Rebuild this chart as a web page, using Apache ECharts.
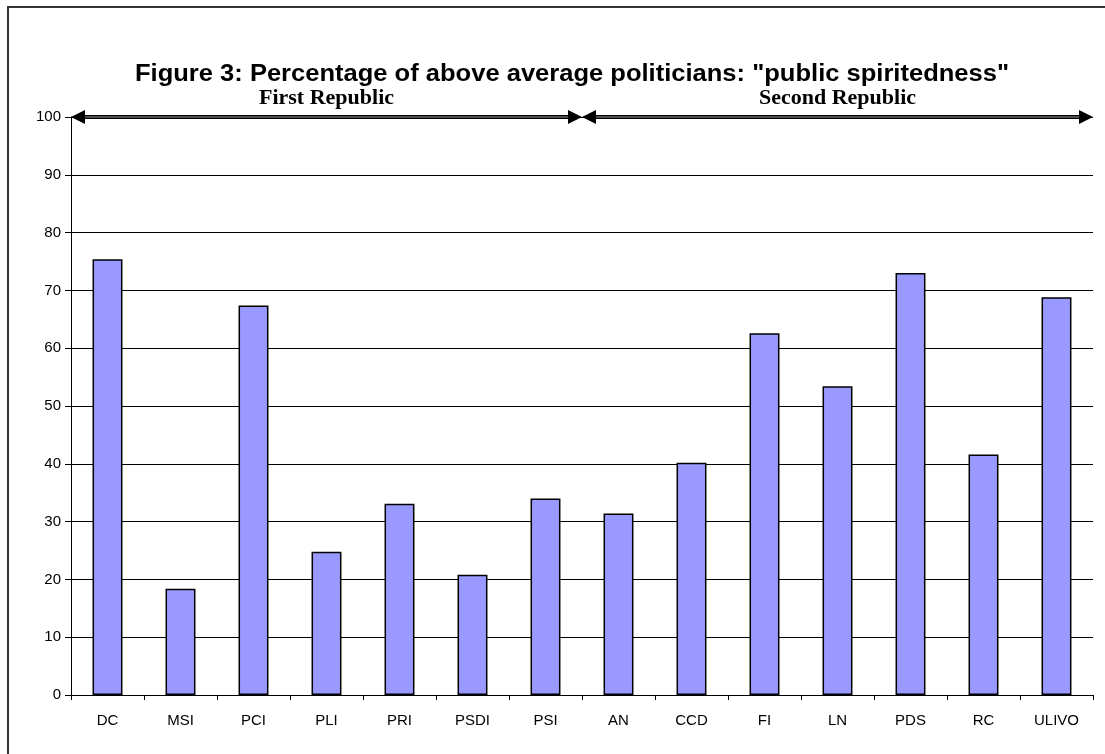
<!DOCTYPE html>
<html>
<head>
<meta charset="utf-8">
<script src="https://cdn.jsdelivr.net/npm/echarts@6/dist/echarts.min.js"></script>
<style>
html,body{margin:0;padding:0;background:#fff;}
#chart{width:1105px;height:754px;}
</style>
</head>
<body>
<div id="chart"></div>
<script>
var categories = ['DC','MSI','PCI','PLI','PRI','PSDI','PSI','AN','CCD','FI','LN','PDS','RC','ULIVO'];
var values = [75.4, 18.4, 67.4, 24.8, 33.1, 20.8, 34.0, 31.4, 40.2, 62.6, 53.4, 73.0, 41.6, 68.8];
var yTicks = [0,10,20,30,40,50,60,70,80,90,100];
var periods = [
  {name:'First Republic', from:0, to:7},
  {name:'Second Republic', from:7, to:14}
];
var titleText = 'Figure 3: Percentage of above average politicians: "public spiritedness"';

var chart = echarts.init(document.getElementById('chart'), null, {renderer:'canvas'});
var option = {
  backgroundColor:'#ffffff',
  animation:false,
  grid:{left:71, right:12, top:117, bottom:59},
  xAxis:[{
    type:'category', data:categories, boundaryGap:true,
    axisLine:{lineStyle:{color:'#000', width:1}},
    axisTick:{show:true, interval:0, length:5, lineStyle:{color:'#000'}},
    axisLabel:{interval:0, margin:18, fontFamily:'Liberation Sans, Arial', fontSize:15, color:'#000'}
  },{
    type:'value', min:0, max:categories.length, show:false
  }],
  yAxis:{
    type:'value', min:yTicks[0], max:yTicks[yTicks.length-1], interval:10,
    axisLine:{show:true, lineStyle:{color:'#000'}},
    axisTick:{show:true, length:6, lineStyle:{color:'#000'}},
    axisLabel:{margin:10, fontFamily:'Liberation Sans, Arial', fontSize:15, color:'#000'},
    splitLine:{show:true, lineStyle:{color:'#000', width:1}}
  },
  series:[{
    type:'bar', data:values, xAxisIndex:0, barWidth:'41%',
    itemStyle:{color:'#9999ff', borderColor:'#000', borderWidth:1.5}
  }]
};
chart.setOption(option);

function px(x,y){ return chart.convertToPixel({xAxisIndex:1, yAxisIndex:0}, [x,y]); }
var g = [];
// outer border
g.push({type:'rect', shape:{x:8,y:7,width:1200,height:800}, style:{fill:null, stroke:'#333', lineWidth:2}, z:0});
// title
g.push({type:'text', x:572, y:75, scaleX:1.11, style:{text:titleText, fontFamily:'Liberation Sans, Arial', fontWeight:'bold', fontSize:23, fill:'#000', align:'center', verticalAlign:'middle'}, z:22});
var ah = 14, aw = 7;
periods.forEach(function(p){
  var a = px(p.from, 100), b = px(p.to, 100);
  var y = a[1];
  g.push({type:'line', shape:{x1:a[0]+ah, y1:y, x2:b[0]-ah, y2:y}, style:{stroke:'#000', lineWidth:4}, z:20});
  g.push({type:'line', shape:{x1:a[0]+ah, y1:y, x2:b[0]-ah, y2:y}, style:{stroke:'#999', lineWidth:1}, z:21});
  g.push({type:'polygon', shape:{points:[[a[0],y],[a[0]+ah,y-aw],[a[0]+ah,y+aw]]}, style:{fill:'#000'}, z:22});
  g.push({type:'polygon', shape:{points:[[b[0],y],[b[0]-ah,y-aw],[b[0]-ah,y+aw]]}, style:{fill:'#000'}, z:22});
  g.push({type:'text', x:(a[0]+b[0])/2, y:y-8, style:{text:p.name, fontFamily:'Liberation Serif, Times New Roman', fontWeight:'bold', fontSize:22, fill:'#000', align:'center', verticalAlign:'bottom'}, z:22});
});
// vertical divider between periods
var top = px(periods[1].from, 100), bot = px(periods[1].from, 0);
g.push({type:'line', shape:{x1:top[0], y1:top[1], x2:bot[0], y2:bot[1]+22}, style:{stroke:'#000', lineWidth:4}, z:23});
chart.setOption({graphic:g});
</script>
</body>
</html>
